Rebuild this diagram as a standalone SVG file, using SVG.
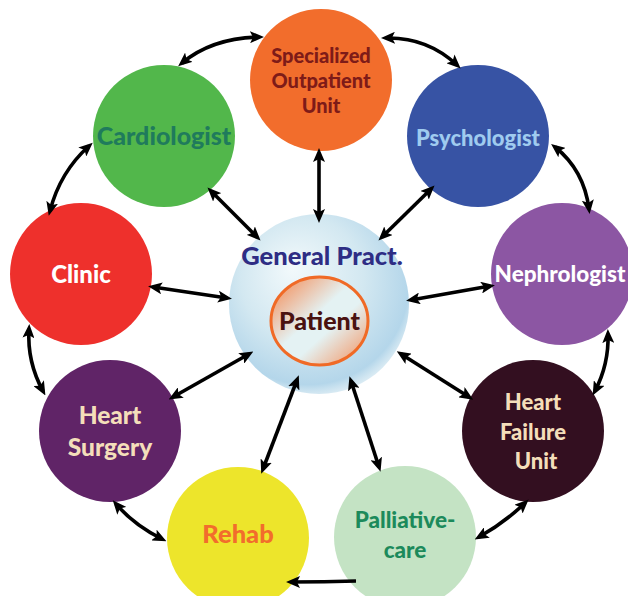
<svg xmlns="http://www.w3.org/2000/svg" width="628" height="596" viewBox="0 0 628 596">
<defs>
<style>
.node text{font-family:Lato,"Open Sans","Liberation Sans",sans-serif;font-weight:900;text-anchor:middle}
.conn path{fill:none;stroke:#000;stroke-width:3.6;marker-start:url(#ah);marker-end:url(#ah)}
.conn path.one{marker-start:none}
</style>
<marker id="ah" viewBox="0 0 14 12" markerWidth="14" markerHeight="12" refX="9" refY="6" orient="auto-start-reverse" markerUnits="userSpaceOnUse">
<path d="M0,0 L14,6 L0,12 L3,6 z" fill="#000"/>
</marker>
<radialGradient id="gpG" cx="0.45" cy="0.4" r="0.62" fx="0.35" fy="0.3">
<stop offset="0" stop-color="#F2F9FB"/>
<stop offset="0.55" stop-color="#D3E8F1"/>
<stop offset="0.9" stop-color="#B4D6EA"/>
<stop offset="1" stop-color="#C9E2EE" stop-opacity="0.6"/>
</radialGradient>
<linearGradient id="patG" x1="0" y1="0" x2="1" y2="1">
<stop offset="0.1" stop-color="#F29A6C"/>
<stop offset="0.45" stop-color="#E4F2F3"/>
<stop offset="0.6" stop-color="#E4F2F3"/>
<stop offset="0.95" stop-color="#F29A6C"/>
</linearGradient>
</defs>
<rect width="628" height="596" fill="#fff"/>

<g id="general-practice" class="node">
<circle cx="319" cy="304" r="90" fill="url(#gpG)"/>
<text x="322" y="265" font-size="25.5" fill="#2E2D84">General Pract.</text>
</g>
<g id="patient" class="node">
<ellipse cx="319.5" cy="321" rx="48.5" ry="44" fill="url(#patG)" stroke="#F06A26" stroke-width="3"/>
<text x="319.5" y="330" font-size="25" fill="#4A1210">Patient</text>
</g>

<g id="specialized" class="node">
<circle cx="321" cy="80" r="71" fill="#F26D2C"/>
<text font-size="20" fill="#7E1B18"><tspan x="321" y="63">Specialized</tspan><tspan x="321" y="88">Outpatient</tspan><tspan x="321" y="113">Unit</tspan></text>
</g>
<g id="cardiologist" class="node">
<circle cx="164" cy="136" r="71" fill="#52B74B"/>
<text x="164" y="145" font-size="25" fill="#1F7B5C">Cardiologist</text>
</g>
<g id="psychologist" class="node">
<circle cx="478" cy="136" r="71" fill="#3753A4"/>
<text x="478" y="146" font-size="22" fill="#9FCBEF">Psychologist</text>
</g>
<g id="clinic" class="node">
<circle cx="81" cy="274" r="71" fill="#EE302C"/>
<text x="81" y="283" font-size="24" fill="#FFFFFF">Clinic</text>
</g>
<g id="nephrologist" class="node">
<circle cx="562" cy="274" r="71" fill="#8C56A3"/>
<text x="560" y="282" font-size="22.5" fill="#FFFFFF">Nephrologist</text>
</g>
<g id="heart-surgery" class="node">
<circle cx="110" cy="431" r="71" fill="#602467"/>
<text font-size="24.5" fill="#F4DEBA"><tspan x="110" y="424">Heart</tspan><tspan x="110" y="456">Surgery</tspan></text>
</g>
<g id="heart-failure" class="node">
<circle cx="533" cy="431" r="71" fill="#330F20"/>
<text font-size="22" fill="#F4DEBA"><tspan x="533" y="410">Heart</tspan><tspan x="533" y="440">Failure</tspan><tspan x="536" y="469">Unit</tspan></text>
</g>
<g id="rehab" class="node">
<circle cx="238" cy="538" r="71" fill="#EDE52B"/>
<text x="238" y="543" font-size="25.5" fill="#F26D2C">Rehab</text>
</g>
<g id="palliative" class="node">
<circle cx="405" cy="537" r="71" fill="#C4E3C4"/>
<text font-size="22.5" fill="#1C8A5B"><tspan x="405" y="528">Palliative-</tspan><tspan x="405" y="558">care</tspan></text>
</g>

<g id="connectors" class="conn">
<path d="M319,153 L319,218"/>
<path d="M211,191 L257,237"/>
<path d="M431,189 L382,237"/>
<path d="M153,287 L227,298"/>
<path d="M411,300 L490,286"/>
<path d="M173,397 L249,354"/>
<path d="M401,354 L469,397"/>
<path d="M297,380 L263,469"/>
<path d="M351,381 L379,467"/>
<path d="M182,63 Q212,38 259,37"/>
<path d="M386,38 Q427,37 457,65"/>
<path d="M555,147 Q584,170 589,209"/>
<path d="M608,334 Q609,364 595,391"/>
<path d="M525,503 Q504,523 479,537"/>
<path class="one" d="M356,581 Q325,582 291,582"/>
<path d="M162,539 Q134,525 116,504"/>
<path d="M43,391 Q27,362 29,329"/>
<path d="M50,211 Q60,172 89,146"/>
</g>
</svg>
